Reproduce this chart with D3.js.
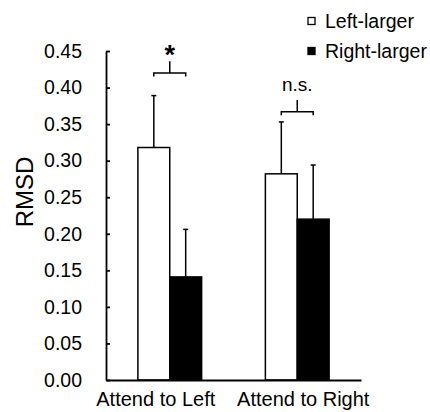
<!DOCTYPE html>
<html>
<head>
<meta charset="utf-8">
<script src="https://cdn.jsdelivr.net/npm/d3@7"></script>
<style>
  body { margin: 0; background: #fff; }
  text { font-family: "Liberation Sans", Arial, sans-serif; fill: #000; }
</style>
</head>
<body>
<div class="bar-chart"></div>
<script>
// data
const categories = ["Attend to Left", "Attend to Right"]
const seriesNames = ["Left-larger", "Right-larger"]
const leftLarger = [0.318, 0.282]
const rightLarger = [0.141, 0.220]
const leftLargerErr = [0.071, 0.071]
const rightLargerErr = [0.065, 0.074]
const sigLabels = ["*", "n.s."]
const sigLevels = [0.420, 0.367]
const yTicks = [0, 0.05, 0.1, 0.15, 0.2, 0.25, 0.3, 0.35, 0.4, 0.45]

const W = 430, H = 412
const margin = { top: 51, right: 69, bottom: 32, left: 106 }
const width = W - margin.left - margin.right
const height = H - margin.top - margin.bottom

const fills = { "Left-larger": "#fff", "Right-larger": "#000" }
const means = { "Left-larger": leftLarger, "Right-larger": rightLarger }
const errs = { "Left-larger": leftLargerErr, "Right-larger": rightLargerErr }

const rows = []
categories.forEach((c, i) => {
    seriesNames.forEach(s => rows.push({ cat: c, key: s, value: means[s][i], err: errs[s][i] }))
})

const svg = d3.select(".bar-chart")
    .append("svg")
    .attr("width", W)
    .attr("height", H)
    .append("g")
    .attr("transform", `translate(${margin.left},${margin.top})`)

const xScale = d3.scaleBand()
    .domain(categories)
    .range([0, width])

const xInner = d3.scaleBand()
    .domain(seriesNames)
    .range([xScale.bandwidth() * 0.25, xScale.bandwidth() * 0.75])

const yScale = d3.scaleLinear()
    .domain([0, 0.45])
    .range([height, 0])

// bars
svg.selectAll(".bar")
    .data(rows)
    .enter()
    .append("rect")
    .attr("class", "bar")
    .attr("x", d => xScale(d.cat) + xInner(d.key))
    .attr("y", d => yScale(d.value))
    .attr("width", xInner.bandwidth())
    .attr("height", d => yScale(0) - yScale(d.value))
    .attr("fill", d => fills[d.key])
    .attr("stroke", "#000")
    .attr("stroke-width", 1.5)

// error bars (upper only)
const cx = d => xScale(d.cat) + xInner(d.key) + xInner.bandwidth() / 2
svg.selectAll(".err")
    .data(rows)
    .enter()
    .append("line")
    .attr("x1", cx).attr("x2", cx)
    .attr("y1", d => yScale(d.value))
    .attr("y2", d => yScale(d.value + d.err))
    .attr("stroke", "#000")
    .attr("stroke-width", 1.5)
svg.selectAll(".cap")
    .data(rows)
    .enter()
    .append("line")
    .attr("x1", d => cx(d) - 2.5).attr("x2", d => cx(d) + 2.5)
    .attr("y1", d => yScale(d.value + d.err))
    .attr("y2", d => yScale(d.value + d.err))
    .attr("stroke", "#000")
    .attr("stroke-width", 1.5)

// significance brackets
categories.forEach((c, i) => {
    const x1 = xScale(c) + xInner(seriesNames[0]) + xInner.bandwidth() / 2
    const x2 = xScale(c) + xInner(seriesNames[1]) + xInner.bandwidth() / 2
    const y = yScale(sigLevels[i])
    const leg = yScale(sigLevels[i] - 0.005)
    const top = yScale(sigLevels[i] + 0.016)
    const mid = (x1 + x2) / 2
    svg.append("path")
        .attr("d", `M${x1},${leg}V${y}H${x2}V${leg}M${mid},${y}V${top}`)
        .attr("fill", "none")
        .attr("stroke", "#000")
        .attr("stroke-width", 1.5)
    const star = sigLabels[i] === "*"
    svg.append("text")
        .attr("x", mid)
        .attr("y", star ? top + 3 : top - 9)
        .attr("text-anchor", "middle")
        .attr("font-size", star ? 27 : 19)
        .attr("font-weight", star ? "bold" : "normal")
        .text(sigLabels[i])
})

// y axis, ticks point inward
const yAxis = d3.axisLeft(yScale)
    .tickValues(yTicks)
    .tickFormat(d3.format(".2f"))
    .tickSizeInner(-4)
    .tickSizeOuter(0)
    .tickPadding(24)
const yAxisGroup = svg.append("g").attr("class", "axis y-axis").call(yAxis)
yAxisGroup.selectAll("text").attr("font-size", 19.5).attr("font-family", "Liberation Sans, Arial, sans-serif")
yAxisGroup.selectAll("line, path").attr("stroke", "#000").attr("stroke-width", 1.8)

// x axis
const xAxis = d3.axisBottom(xScale).tickSize(0).tickPadding(12)
const xAxisGroup = svg.append("g")
    .attr("class", "axis x-axis")
    .attr("transform", `translate(0,${height})`)
    .call(xAxis)
xAxisGroup.select("path").attr("stroke", "#000").attr("stroke-width", 1.8)
xAxisGroup.selectAll("text")
    .attr("font-size", 20)
    .attr("font-family", "Liberation Sans, Arial, sans-serif")
    .attr("dx", (d, i) => i === 0 ? -14 : 6)

// y label
svg.append("text")
    .attr("transform", `translate(${33 - margin.left},${192 - margin.top}) rotate(-90)`)
    .attr("text-anchor", "middle")
    .attr("font-size", 24)
    .text("RMSD")

// legend
const legend = svg.append("g")
    .attr("transform", `translate(${308 - margin.left},${21 - margin.top})`)
seriesNames.forEach((s, i) => {
    const g = legend.append("g").attr("transform", `translate(0,${i * 30})`)
    g.append("rect")
        .attr("x", 0).attr("y", -3.5)
        .attr("width", 7).attr("height", 7)
        .attr("fill", fills[s])
        .attr("stroke", "#000")
        .attr("stroke-width", 1.3)
    g.append("text")
        .attr("x", 17)
        .attr("y", 7)
        .attr("font-size", 19.5)
        .text(s)
})
</script>
</body>
</html>
